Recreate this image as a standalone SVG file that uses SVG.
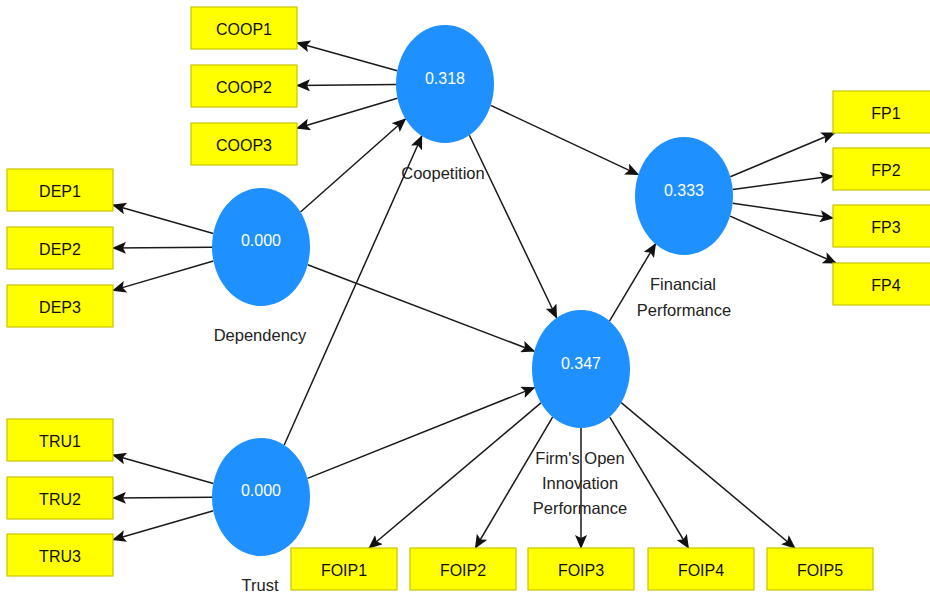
<svg xmlns="http://www.w3.org/2000/svg" width="930" height="595" viewBox="0 0 930 595">
<style>
.box rect{fill:#FFFF00;stroke:#C8C400;stroke-width:1.2}
.box text{font-family:"Liberation Sans",Arial,sans-serif;font-size:16px;fill:#111;text-anchor:middle}
.lv ellipse{fill:#1E90FF}
.lv text.v{font-family:"Liberation Sans",Arial,sans-serif;font-size:16px;fill:#fff;text-anchor:middle}
.lv text.n{font-family:"Liberation Sans",Arial,sans-serif;font-size:16.5px;fill:#222;text-anchor:middle}
#edges line{stroke:#1a1a1a;stroke-width:1.5;marker-end:url(#ah)}
</style>
<defs>
<marker id="ah" markerUnits="userSpaceOnUse" markerWidth="14" markerHeight="12" viewBox="0 0 14 12" refX="13" refY="6" orient="auto">
<path d="M0,0 L14,6 L0,12 L3,6 z" fill="#111"/>
</marker>
</defs>
<rect width="930" height="595" fill="#fff"/>
<g id="edges">
<line x1="397.3" y1="70.7" x2="297" y2="42.8"/>
<line x1="396" y1="84.5" x2="297" y2="85.5"/>
<line x1="397.4" y1="98.2" x2="297" y2="128.2"/>
<line x1="213.3" y1="233.5" x2="113" y2="205"/>
<line x1="212" y1="247.2" x2="113" y2="248"/>
<line x1="213.4" y1="261" x2="113" y2="290.4"/>
<line x1="213.3" y1="483.5" x2="113" y2="455"/>
<line x1="212" y1="497.2" x2="113" y2="498"/>
<line x1="213.4" y1="510.8" x2="113" y2="539.7"/>
<line x1="300.5" y1="212" x2="405.5" y2="119"/>
<line x1="284.2" y1="445" x2="421.8" y2="136"/>
<line x1="307.7" y1="264.8" x2="534.3" y2="351.2"/>
<line x1="307.5" y1="478.4" x2="534.5" y2="387.6"/>
<line x1="490.7" y1="105.4" x2="638.3" y2="174.6"/>
<line x1="469.4" y1="135.2" x2="556.6" y2="317.8"/>
<line x1="609.5" y1="321.1" x2="655.5" y2="243.9"/>
<line x1="730.3" y1="176.7" x2="834.5" y2="133"/>
<line x1="732.7" y1="189.5" x2="833" y2="176.1"/>
<line x1="732.6" y1="203.2" x2="833" y2="218.1"/>
<line x1="730.1" y1="216.1" x2="836" y2="263"/>
<line x1="540.9" y1="402.9" x2="369" y2="548"/>
<line x1="552.6" y1="417.1" x2="475.4" y2="548"/>
<line x1="581" y1="428" x2="581" y2="548"/>
<line x1="609.8" y1="417.1" x2="688.4" y2="548"/>
<line x1="621.2" y1="402.7" x2="794.9" y2="548"/>
</g>
<g id="COOP1" class="box"><rect x="191" y="7" width="106" height="42"/><text x="244" y="35">COOP1</text></g>
<g id="COOP2" class="box"><rect x="191" y="65" width="106" height="42"/><text x="244" y="93">COOP2</text></g>
<g id="COOP3" class="box"><rect x="191" y="123" width="106" height="42"/><text x="244" y="151">COOP3</text></g>
<g id="DEP1" class="box"><rect x="7" y="169" width="106" height="42"/><text x="60" y="197">DEP1</text></g>
<g id="DEP2" class="box"><rect x="7" y="227" width="106" height="42"/><text x="60" y="255">DEP2</text></g>
<g id="DEP3" class="box"><rect x="7" y="285" width="106" height="42"/><text x="60" y="313">DEP3</text></g>
<g id="TRU1" class="box"><rect x="7" y="419" width="106" height="42"/><text x="60" y="447">TRU1</text></g>
<g id="TRU2" class="box"><rect x="7" y="477" width="106" height="42"/><text x="60" y="505">TRU2</text></g>
<g id="TRU3" class="box"><rect x="7" y="534" width="106" height="42"/><text x="60" y="562">TRU3</text></g>
<g id="FP1" class="box"><rect x="833" y="91" width="106" height="42"/><text x="886" y="119">FP1</text></g>
<g id="FP2" class="box"><rect x="833" y="148" width="106" height="42"/><text x="886" y="176">FP2</text></g>
<g id="FP3" class="box"><rect x="833" y="205" width="106" height="42"/><text x="886" y="233">FP3</text></g>
<g id="FP4" class="box"><rect x="833" y="263" width="106" height="42"/><text x="886" y="291">FP4</text></g>
<g id="FOIP1" class="box"><rect x="291" y="548" width="106" height="42"/><text x="344" y="576">FOIP1</text></g>
<g id="FOIP2" class="box"><rect x="410" y="548" width="106" height="42"/><text x="463" y="576">FOIP2</text></g>
<g id="FOIP3" class="box"><rect x="528" y="548" width="106" height="42"/><text x="581" y="576">FOIP3</text></g>
<g id="FOIP4" class="box"><rect x="648" y="548" width="106" height="42"/><text x="701" y="576">FOIP4</text></g>
<g id="FOIP5" class="box"><rect x="767" y="548" width="106" height="42"/><text x="820" y="576">FOIP5</text></g>
<g id="Coopetition" class="lv"><ellipse cx="445" cy="84" rx="49" ry="59"/><text class="v" x="445" y="84">0.318</text><text class="n" x="443" y="179">Coopetition</text></g>
<g id="Dependency" class="lv"><ellipse cx="261" cy="247" rx="49" ry="59"/><text class="v" x="261" y="246">0.000</text><text class="n" x="260" y="341">Dependency</text></g>
<g id="Trust" class="lv"><ellipse cx="261" cy="497" rx="49" ry="59"/><text class="v" x="261" y="496">0.000</text><text class="n" x="260" y="591">Trust</text></g>
<g id="FinancialPerformance" class="lv"><ellipse cx="684" cy="196" rx="49" ry="59"/><text class="v" x="684" y="196">0.333</text><text class="n" x="683" y="290">Financial</text><text class="n" x="684" y="316">Performance</text></g>
<g id="FirmsOpenInnovationPerformance" class="lv"><ellipse cx="581" cy="369" rx="49" ry="59"/><text class="v" x="581" y="369">0.347</text><text class="n" x="580" y="464">Firm's Open</text><text class="n" x="580" y="489">Innovation</text><text class="n" x="580" y="514">Performance</text></g>
</svg>
